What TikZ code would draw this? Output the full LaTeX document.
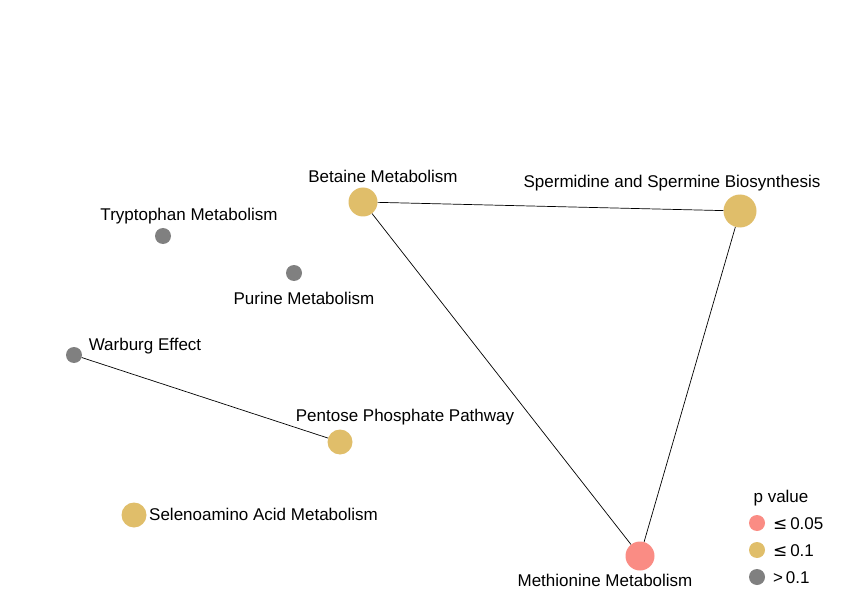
\documentclass[tikz,border=0pt]{standalone}
\usepackage{fontspec}
\setmainfont{Liberation Sans}
\newfontfamily\symfont{DejaVu Sans}
\definecolor{cred}{HTML}{FA8C84}
\definecolor{cgold}{HTML}{E0BE6A}
\definecolor{cgray}{HTML}{808080}
\begin{document}
\begin{tikzpicture}[x=1bp,y=-1bp,
  dot/.style={circle,inner sep=0pt,minimum size=#1},
  lab/.style={font=\fontsize{17bp}{19bp}\selectfont,inner sep=0pt,anchor=center},
  edge/.style={draw=black,line width=0.7bp}]
\useasboundingbox (0,0) rectangle (866,591);
% nodes
\node[dot=29bp,fill=cgold] (bet) at (363,202) {};
\node[dot=33bp,fill=cgold] (spe) at (740,211) {};
\node[dot=16bp,fill=cgray] (try) at (163,236) {};
\node[dot=16bp,fill=cgray] (pur) at (294,273) {};
\node[dot=16bp,fill=cgray] (war) at (74,355) {};
\node[dot=25bp,fill=cgold] (pen) at (340,442) {};
\node[dot=25bp,fill=cgold] (sel) at (134,515) {};
\node[dot=29bp,fill=cred] (met) at (640,556) {};
% edges
\draw[edge] (bet) -- (spe);
\draw[edge] (bet) -- (met);
\draw[edge] (spe) -- (met);
\draw[edge] (war) -- (pen);
% labels
\node[lab] (lbet) at (383,176.5) {Betaine Metabolism};
\node[lab] (lspe) at (672,183.5) {Spermidine and Spermine Biosynthesis};
\node[lab] (ltry) at (189,216.5) {Tryptophan Metabolism};
\node[lab] (lpur) at (304,298.5) {Purine Metabolism};
\node[lab] (lwar) at (145,346.5) {Warburg Effect};
\node[lab] (lpen) at (405,417.5) {Pentose Phosphate Pathway};
\node[lab,anchor=west] (lsel) at (149,514.5) {Selenoamino Acid Metabolism};
\node[lab] (lmet) at (605,580.5) {Methionine Metabolism};
% legend
\node[lab] (lpv) at (781,498) {p value};
\node[dot=16bp,fill=cred] (k1) at (757,523) {};
\node[dot=16bp,fill=cgold] (k2) at (757,550) {};
\node[dot=16bp,fill=cgray] (k3) at (757,577) {};
\node[lab,anchor=west] (t1) at (773,524) {{\symfont ≤}\,0.05};
\node[lab,anchor=west] (t2) at (773,551) {{\symfont ≤}\,0.1};
\node[lab,anchor=west] (t3) at (773,578) {>\,0.1};
\end{tikzpicture}
\end{document}
